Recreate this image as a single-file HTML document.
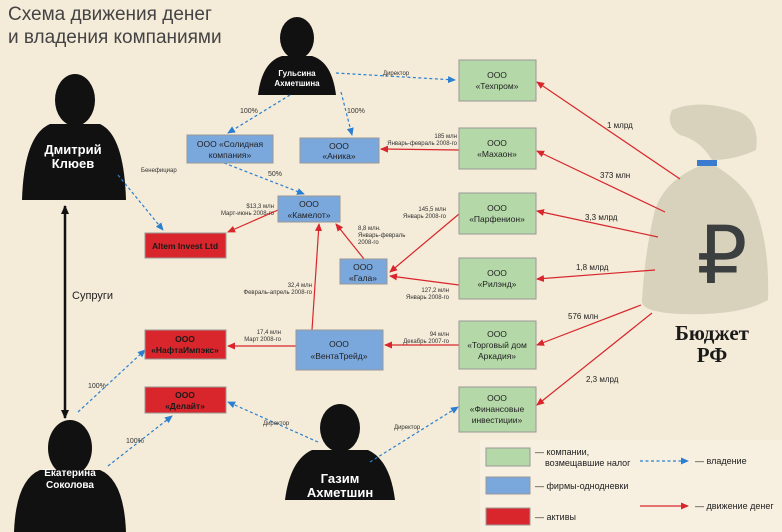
<!DOCTYPE html>
<html><head><meta charset="utf-8"><style>
html,body{margin:0;padding:0;background:#f4ebd8;}
svg{display:block;font-family:"Liberation Sans","DejaVu Sans",sans-serif;}
.s{font-size:6px;fill:#333;}
.b{font-size:8.5px;fill:#222;text-anchor:middle;}
.l{font-size:9px;fill:#222;}
</style></head><body>
<svg width="782" height="532" viewBox="0 0 782 532" xmlns="http://www.w3.org/2000/svg">
<defs>
<marker id="ar" markerWidth="8" markerHeight="8" refX="7" refY="4" orient="auto" markerUnits="userSpaceOnUse"><path d="M0,0.5 L8,4 L0,7.5 Z" fill="#d8262c"/></marker>
<marker id="ab" markerWidth="8" markerHeight="8" refX="7" refY="4" orient="auto" markerUnits="userSpaceOnUse"><path d="M0,0.5 L8,4 L0,7.5 Z" fill="#2a7fd0"/></marker>
<marker id="ak" markerWidth="9" markerHeight="9" refX="8" refY="4.5" orient="auto-start-reverse" markerUnits="userSpaceOnUse"><path d="M0,0.5 L9,4.5 L0,8.5 Z" fill="#111"/></marker>
</defs>
<rect width="782" height="532" fill="#f4ebd8"/>
<text x="8" y="20" font-size="19" fill="#444">Схема движения денег</text>
<text x="8" y="43" font-size="19" fill="#444">и владения компаниями</text>

<g fill="#111">
<ellipse cx="297" cy="38" rx="17" ry="21"/><path d="M258,95 Q262,62 282,56 L312,56 Q332,62 336,95 Z"/>
<ellipse cx="75" cy="100" rx="20" ry="26"/><path d="M22,200 Q24,135 50,124 L100,124 Q124,135 126,200 Z"/>
<ellipse cx="70" cy="448" rx="22" ry="28"/><path d="M14,532 Q16,480 40,470 L100,470 Q124,480 126,532 Z"/>
<ellipse cx="340" cy="428" rx="20" ry="24"/><path d="M285,500 Q290,460 312,450 L368,450 Q390,460 395,500 Z"/>
</g>
<g fill="#fff" font-weight="bold" text-anchor="middle">
<text x="297" y="76" font-size="8">Гульсина</text><text x="297" y="86" font-size="8">Ахметшина</text>
<text x="73" y="154" font-size="13">Дмитрий</text><text x="73" y="168" font-size="13">Клюев</text>
<text x="70" y="476" font-size="10">Екатерина</text><text x="70" y="488" font-size="10">Соколова</text>
<text x="340" y="483" font-size="13">Газим</text><text x="340" y="497" font-size="13">Ахметшин</text>
</g>

<line x1="65" y1="206" x2="65" y2="418" stroke="#111" stroke-width="2.5" marker-end="url(#ak)" marker-start="url(#ak)"/>
<text x="72" y="299" font-size="11" fill="#222">Супруги</text>

<path d="M672,110 Q700,98 740,112 Q760,122 756,150 Q735,160 712,160 Q700,140 680,135 Q665,125 672,110Z" fill="#d8d2bd"/>
<path d="M700,166 Q705,160 712,164 Q740,180 752,200 Q770,240 768,300 Q740,316 680,314 Q640,312 642,300 Q645,250 655,210 Q665,180 700,166Z" fill="#d8d2bd"/>
<rect x="697" y="160" width="20" height="6" fill="#3a7bd0"/>
<text x="722" y="283" font-size="80" fill="#3c3f3f" text-anchor="middle" font-family="Liberation Serif,serif">₽</text>
<text x="712" y="340" font-size="21" font-weight="bold" fill="#1a1a1a" text-anchor="middle" font-family="Liberation Serif,serif">Бюджет</text>
<text x="712" y="362" font-size="21" font-weight="bold" fill="#1a1a1a" text-anchor="middle" font-family="Liberation Serif,serif">РФ</text>

<g stroke="#d8262c" stroke-width="1.2" fill="none" marker-end="url(#ar)">
<line x1="680" y1="179" x2="537" y2="82"/>
<line x1="665" y1="212" x2="537" y2="151"/>
<line x1="658" y1="237" x2="537" y2="211"/>
<line x1="655" y1="270" x2="537" y2="279"/>
<line x1="641" y1="305" x2="537" y2="345"/>
<line x1="652" y1="313" x2="537" y2="405"/>
<line x1="459" y1="150" x2="381" y2="149"/>
<line x1="459" y1="214" x2="390" y2="272"/>
<line x1="459" y1="285" x2="390" y2="276"/>
<line x1="459" y1="345" x2="385" y2="345"/>
<line x1="364" y1="259" x2="336" y2="224"/>
<line x1="312" y1="330" x2="319" y2="224"/>
<line x1="278" y1="210" x2="228" y2="232"/>
<line x1="296" y1="346" x2="228" y2="346"/>
</g>
<g stroke="#2a7fd0" stroke-width="1.2" fill="none" stroke-dasharray="3,2.5" marker-end="url(#ab)">
<line x1="336" y1="73" x2="455" y2="80"/>
<line x1="290" y1="95" x2="228" y2="133"/>
<line x1="341" y1="92" x2="352" y2="135"/>
<line x1="224" y1="163" x2="304" y2="194"/>
<line x1="118" y1="175" x2="163" y2="230"/>
<line x1="78" y1="412" x2="145" y2="350"/>
<line x1="108" y1="466" x2="172" y2="416"/>
<line x1="318" y1="442" x2="228" y2="402"/>
<line x1="370" y1="462" x2="458" y2="407"/>
</g>

<g class="s">
<text x="383" y="75">Директор</text>
<text x="240" y="113" font-size="7">100%</text>
<text x="347" y="113" font-size="7">100%</text>
<text x="268" y="176" font-size="7">50%</text>
<text x="141" y="172">Бенефициар</text>
<text x="88" y="388" font-size="7">100%</text>
<text x="126" y="443" font-size="7">100%</text>
<text x="263" y="425">Директор</text>
<text x="394" y="429">Директор</text>
<g text-anchor="end">
<text x="457" y="138">185 млн</text><text x="457" y="145">Январь-февраль 2008-го</text>
<text x="446" y="211">145,5 млн</text><text x="446" y="218">Январь 2008-го</text>
<text x="449" y="292">127,2 млн</text><text x="449" y="299">Январь 2008-го</text>
<text x="449" y="336">94 млн</text><text x="449" y="343">Декабрь 2007-го</text>
<text x="274" y="208">$13,3 млн</text><text x="274" y="215">Март-июнь 2008-го</text>
<text x="312" y="287">32,4 млн</text><text x="312" y="294">Февраль-апрель 2008-го</text>
<text x="281" y="334">17,4 млн</text><text x="281" y="341">Март 2008-го</text>
</g>
<text x="358" y="230">8,8 млн.</text><text x="358" y="237">Январь-февраль</text><text x="358" y="244">2008-го</text>
</g>
<g font-size="8" fill="#222">
<text x="607" y="128">1 млрд</text>
<text x="600" y="178">373 млн</text>
<text x="585" y="220">3,3 млрд</text>
<text x="576" y="270">1,8 млрд</text>
<text x="568" y="319">576 млн</text>
<text x="586" y="382">2,3 млрд</text>
</g>

<g fill="#b4d8a8" stroke="#999" stroke-width="1">
<rect x="459" y="60" width="77" height="41"/>
<rect x="459" y="128" width="77" height="41"/>
<rect x="459" y="193" width="77" height="41"/>
<rect x="459" y="258" width="77" height="41"/>
<rect x="459" y="321" width="77" height="48"/>
<rect x="459" y="387" width="77" height="45"/>
</g>
<g class="b">
<text x="497" y="78">ООО</text><text x="497" y="89">«Техпром»</text>
<text x="497" y="146">ООО</text><text x="497" y="157">«Махаон»</text>
<text x="497" y="211">ООО</text><text x="497" y="222">«Парфенион»</text>
<text x="497" y="276">ООО</text><text x="497" y="287">«Рилэнд»</text>
<text x="497" y="337">ООО</text><text x="497" y="348">«Торговый дом</text><text x="497" y="359">Аркадия»</text>
<text x="497" y="401">ООО</text><text x="497" y="412">«Финансовые</text><text x="497" y="423">инвестиции»</text>
</g>
<g fill="#7aa7dc" stroke="#999" stroke-width="1">
<rect x="187" y="135" width="86" height="28"/>
<rect x="300" y="138" width="79" height="25"/>
<rect x="278" y="196" width="62" height="26"/>
<rect x="340" y="259" width="47" height="25"/>
<rect x="296" y="330" width="87" height="40"/>
</g>
<g class="b">
<text x="230" y="147">ООО «Солидная</text><text x="230" y="158">компания»</text>
<text x="339" y="149">ООО</text><text x="339" y="159">«Аника»</text>
<text x="309" y="207">ООО</text><text x="309" y="218">«Камелот»</text>
<text x="363" y="270">ООО</text><text x="363" y="281">«Гала»</text>
<text x="339" y="347">ООО</text><text x="339" y="359">«ВентаТрейд»</text>
</g>
<g fill="#d8262c" stroke="#999" stroke-width="1">
<rect x="145" y="233" width="81" height="25"/>
<rect x="145" y="330" width="81" height="29"/>
<rect x="145" y="387" width="81" height="26"/>
</g>
<g class="b" font-weight="bold" style="fill:#1a1a1a">
<text x="185" y="249">Altem Invest Ltd</text>
<text x="185" y="342">ООО</text><text x="185" y="353">«НафтаИмпэкс»</text>
<text x="185" y="398">ООО</text><text x="185" y="409">«Делайт»</text>
</g>

<rect x="480" y="440" width="302" height="92" fill="#f7f0e0"/>
<rect x="486" y="448" width="44" height="18" fill="#b4d8a8" stroke="#999"/>
<rect x="486" y="477" width="44" height="17" fill="#7aa7dc" stroke="#999"/>
<rect x="486" y="508" width="44" height="17" fill="#d8262c" stroke="#999"/>
<g class="l">
<text x="535" y="455">— компании,</text><text x="545" y="466">возмещавшие налог</text>
<text x="535" y="489">— фирмы-однодневки</text>
<text x="535" y="520">— активы</text>
<text x="695" y="464">— владение</text>
<text x="695" y="509">— движение денег</text>
</g>
<line x1="640" y1="461" x2="688" y2="461" stroke="#2a7fd0" stroke-width="1.2" stroke-dasharray="3,2.5" marker-end="url(#ab)"/>
<line x1="640" y1="506" x2="688" y2="506" stroke="#d8262c" stroke-width="1.2" marker-end="url(#ar)"/>
</svg>
</body></html>
